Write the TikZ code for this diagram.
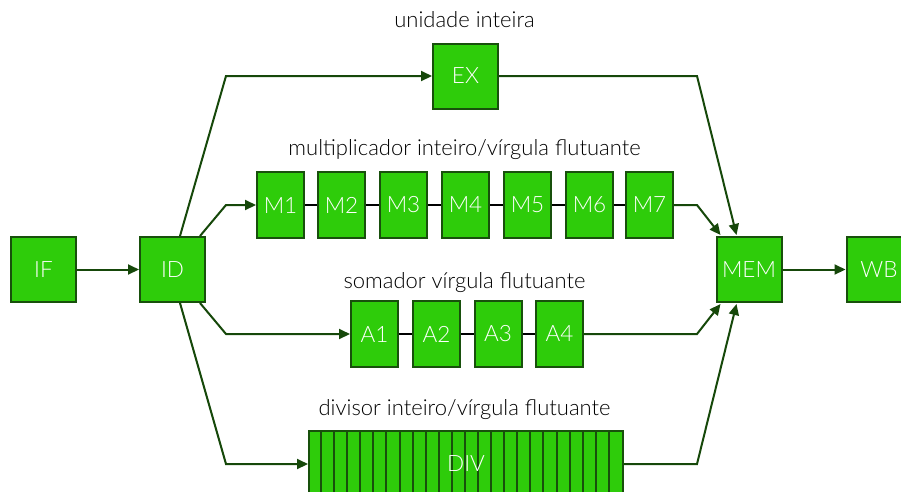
\documentclass[tikz,border=0pt]{standalone}
\usepackage{fontspec}
\setmainfont{Lato Light}
\usetikzlibrary{arrows.meta,calc}
\definecolor{boxfill}{RGB}{46,204,10}
\definecolor{boxline}{RGB}{24,80,12}
\definecolor{arrowc}{RGB}{22,72,10}
\begin{document}
\begin{tikzpicture}[x=1pt,y=-1pt,
  stage/.style={draw=boxline,fill=boxfill,line width=2pt,minimum width=65pt,minimum height=65pt,inner sep=0pt,text=white,font=\fontsize{22.5}{24}\selectfont},
  pipe/.style={stage,minimum width=47pt,minimum height=66pt},
  lbl/.style={font=\fontsize{22}{24}\selectfont,text=black},
  conn/.style={draw=arrowc,line width=2pt,-{Triangle[length=11pt,width=10pt]}},
  link/.style={draw=black,line width=1.6pt}]
\useasboundingbox (0,0) rectangle (901,491);
% stages
\node[stage] (if) at (43.5,269.5) {IF};
\node[stage] (id) at (172.5,269.5) {ID};
\node[stage] (ex) at (465.5,76) {EX};
\node[stage] (mem) at (749,269.5) {MEM};
\node[stage] (wb) at (879,269.5) {WB};
% multiplier
\foreach \i/\x in {1/280.5,2/341.5,3/403.5,4/465.5,5/527.5,6/589.5,7/649.5}
  \node[pipe] (m\i) at (\x,205) {M\i};
% adder
\foreach \i/\x in {1/374.5,2/436.5,3/498,4/559.5}
  \node[pipe] (a\i) at (\x,334) {A\i};
% divider
\node[draw=boxline,fill=boxfill,line width=2pt,minimum width=314pt,minimum height=66pt,inner sep=0pt] (div) at (466,464) {};
\foreach \k in {1,...,23}
  \draw[boxline,line width=2pt] ($(div.north west)+(\k*13.08,0)$) -- ($(div.south west)+(\k*13.08,0)$);
\node[text=white,font=\fontsize{22.5}{24}\selectfont] (divtxt) at (div.center) {DIV};
% labels
\node[lbl] (lex) at (464.5,20) {unidade inteira};
\node[lbl] (lm) at (464.5,150) {multiplicador inteiro/vírgula flutuante};
\node[lbl] (la) at (464.5,283) {somador vírgula flutuante};
\node[lbl] (ld) at (464.5,410) {divisor inteiro/vírgula flutuante};
% chain links
\foreach \i/\j in {1/2,2/3,3/4,4/5,5/6,6/7}
  \draw[link] (m\i.east) -- (m\j.west);
\foreach \i/\j in {1/2,2/3,3/4}
  \draw[link] (a\i.east) -- (a\j.west);
% connectors
\draw[conn] (if.east) -- (id.west);
\draw[conn] (mem.east) -- (wb.west);
\draw[conn] ($(id.north west)+(41,0)$) -- (226,76) -- (ex.west);
\draw[conn] ($(id.north east)+(-6,0)$) -- (226,205) -- (m1.west);
\draw[conn] ($(id.south east)+(-6,0)$) -- (226,334) -- (a1.west);
\draw[conn] ($(id.south west)+(41,0)$) -- (226,464) -- (div.west);
\draw[conn] (ex.east) -- (697,76) -- ($(mem.north west)+(21,-1)$);
\draw[conn] (m7.east) -- (697,205) -- ($(mem.north west)+(5,-1)$);
\draw[conn] (a4.east) -- (697,334) -- ($(mem.south west)+(5,1)$);
\draw[conn] (div.east) -- (697,464) -- ($(mem.south west)+(21,1)$);
\end{tikzpicture}
\end{document}
